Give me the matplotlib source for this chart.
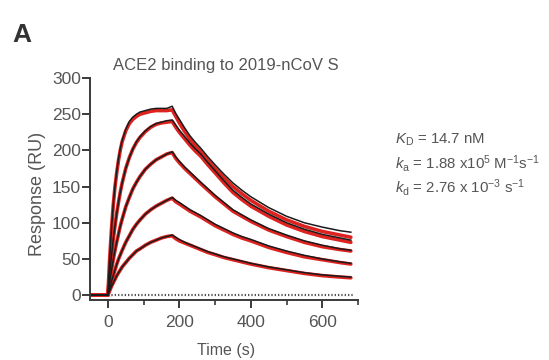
import matplotlib
matplotlib.use("Agg")
import matplotlib.pyplot as plt
from matplotlib.ticker import MultipleLocator

plt.rcParams['font.family'] = ['Liberation Sans', 'DejaVu Sans']
plt.rcParams['mathtext.fontset'] = 'custom'
plt.rcParams['mathtext.rm'] = 'Liberation Sans'
plt.rcParams['mathtext.it'] = 'Liberation Sans:italic'

# ---- data ----
time_s = [-45, 0,
          5, 10, 15, 20, 25, 30, 35, 40, 50, 60, 70, 80, 90, 105, 120, 135, 150, 165,
          180,
          190, 200, 215, 230, 245, 260, 280, 300, 325, 350, 375, 400,
          450, 500, 550, 600, 650, 680]

# fitted curves (black)
fit_1 = [0, 0,
         51, 92, 125, 151, 172, 189, 203, 214, 229, 240, 246, 250, 253, 255, 257, 258, 258, 258,
         261,
         251, 243, 231, 220, 211, 203, 191, 180, 167, 155, 145, 136, 121, 109, 100, 94, 89, 87]
fit_2 = [0, 0,
         29, 54, 77, 96, 114, 129, 143, 155, 175, 190, 202, 212, 219, 227, 233, 237, 239, 241,
         242,
         235, 228, 219, 210, 202, 195, 183, 172, 158, 145, 135, 126, 112, 100, 91, 84, 79, 76]
fit_3 = [0, 0,
         18, 34, 49, 62, 74, 85, 96, 105, 122, 135, 147, 156, 164, 174, 181, 187, 191, 195,
         198,
         191, 185, 177, 170, 163, 156, 147, 138, 128, 118, 111, 104, 92, 83, 75, 69, 64, 62]
fit_4 = [0, 0,
         10, 19, 27, 35, 43, 50, 56, 62, 73, 82, 91, 98, 104, 112, 118, 123, 127, 131,
         135,
         131, 128, 123, 118, 114, 110, 104, 98, 92, 86, 81, 77, 68, 61, 55, 50, 46, 44]
fit_5 = [0, 0,
         6, 12, 17, 22, 27, 31, 35, 39, 45, 51, 56, 61, 64, 69, 73, 76, 79, 81,
         83,
         80, 77, 73, 70, 67, 64, 60, 57, 53, 50, 47, 44, 39, 35, 31, 28, 26, 25]

# measured responses (red)
data_1 = [0, 0,
          50, 90, 124, 150, 170, 187, 201, 212, 227, 237, 243, 247, 250, 252, 254, 255, 255, 255,
          256,
          247, 238, 226, 215, 206, 198, 186, 175, 162, 150, 140, 131, 116, 104, 95, 88, 83, 80]
data_2 = [0, 0,
          29, 54, 77, 96, 114, 129, 143, 155, 175, 190, 202, 211, 218, 226, 232, 236, 238, 239,
          240,
          232, 225, 216, 207, 199, 192, 180, 169, 155, 142, 132, 123, 109, 97, 88, 81, 76, 73]
data_3 = [0, 0,
          18, 34, 49, 62, 74, 85, 96, 105, 122, 135, 147, 156, 164, 174, 181, 187, 191, 195,
          197,
          189, 183, 175, 168, 161, 154, 145, 136, 126, 116, 109, 102, 90, 81, 73, 67, 63, 61]
data_4 = [0, 0,
          10, 19, 27, 35, 43, 50, 56, 62, 73, 82, 91, 98, 104, 112, 118, 123, 127, 131,
          134,
          129, 126, 121, 116, 112, 108, 102, 96, 90, 84, 79, 75, 66, 59, 53, 49, 45, 43]
data_5 = [0, 0,
          6, 12, 17, 22, 27, 31, 35, 39, 45, 51, 56, 61, 64, 69, 73, 76, 79, 81,
          82,
          78, 75, 72, 69, 66, 63, 59, 56, 52, 49, 46, 43, 38, 34, 30, 27, 25, 24]

fits = [fit_1, fit_2, fit_3, fit_4, fit_5]
datas = [data_1, data_2, data_3, data_4, data_5]

title = "ACE2 binding to 2019-nCoV S"
xlabel = "Time (s)"
ylabel = "Response (RU)"
xticks = [0, 200, 400, 600]
yticks = [0, 50, 100, 150, 200, 250, 300]
kinetics = [r"$K_\mathrm{D}$ = 14.7 nM",
            r"$k_\mathrm{a}$ = 1.88 x10$^{5}$ M$^{-1}$s$^{-1}$",
            r"$k_\mathrm{d}$ = 2.76 x 10$^{-3}$ s$^{-1}$"]

# ---- figure ----
W, H = 549, 360
fig = plt.figure(figsize=(W / 100, H / 100), dpi=100)
ax = fig.add_axes([90 / W, 1 - 299.5 / H, (358 - 90) / W, (299.5 - 78) / H])

axis_col = '#3a3a3a'
text_col = '#555555'

for d in datas:
    ax.plot(time_s, d, color='#dc2320', lw=2.6, solid_capstyle='round',
            solid_joinstyle='round', zorder=2)
for f in fits:
    ax.plot(time_s, f, color='#1a1a1a', lw=1.1, solid_joinstyle='round', zorder=3)

ax.plot([0, 685], [0, 0], color='#555555', lw=1.6, ls=(0, (0.6, 0.9)), zorder=1)

ax.set_xlim(-50, 700)
ax.set_ylim(-6, 300)
ax.set_xticks(xticks)
ax.set_yticks(yticks)
ax.xaxis.set_minor_locator(MultipleLocator(100))
ax.tick_params(axis='both', which='major', direction='out', length=5.5, width=1.4,
               color=axis_col, labelcolor=text_col, labelsize=12.5)
ax.tick_params(axis='y', which='major', pad=1)
ax.tick_params(axis='x', which='major', pad=5.5)
ax.tick_params(axis='x', which='minor', direction='out', length=3.5, width=1.2, color=axis_col)

for s in ['top', 'right']:
    ax.spines[s].set_visible(False)
for s in ['left', 'bottom']:
    ax.spines[s].set_color(axis_col)
    ax.spines[s].set_linewidth(1.4)

fig.text(226 / W, 1 - 70 / H, title, color=text_col, fontsize=12, ha='center', va='baseline')
fig.text(226 / W, 1 - 350 / H, xlabel, color=text_col, fontsize=11.5, ha='center', va='center')
fig.text(38 / W, 1 - 194 / H, ylabel, color=text_col, fontsize=13, ha='center', va='center',
         rotation=90)

fig.text(12 / W, 1 - 42 / H, "A", fontsize=19, fontweight='bold', color='#333333')

for i, s in enumerate(kinetics):
    fig.text(395 / W, 1 - (144 + i * 24.5) / H, s, fontsize=10.8, color=text_col,
             va='baseline')

fig.savefig("out.png", dpi=100, facecolor='white')
